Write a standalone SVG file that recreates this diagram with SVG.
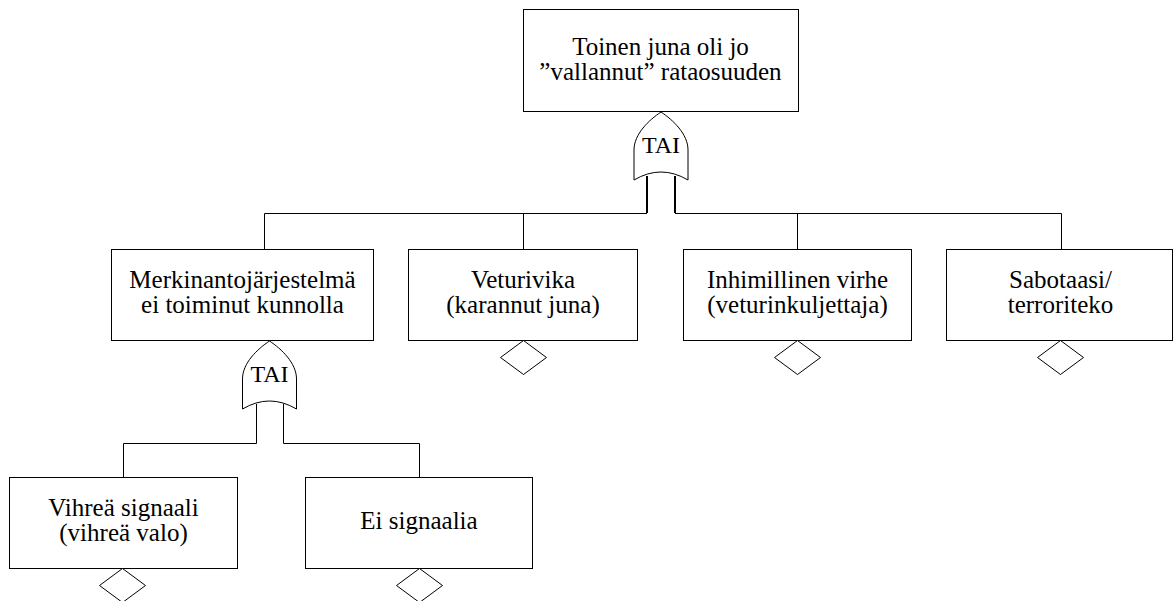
<svg xmlns="http://www.w3.org/2000/svg" width="1173" height="601" viewBox="0 0 1173 601">
  <style>
    .box { fill: #fff; stroke: #000; stroke-width: 1; }
    .gate { fill: #fff; stroke: #000; stroke-width: 1; }
    .diamond { fill: #fff; stroke: #000; stroke-width: 1; }
    .label { font-family: "Liberation Serif", "DejaVu Serif", serif; font-size: 25px; fill: #000; text-anchor: middle; }
    .gate-label { font-family: "Liberation Serif", "DejaVu Serif", serif; font-size: 24px; fill: #000; text-anchor: middle; }
    .wire { fill: none; stroke: #000; stroke-width: 1; }
    .wire-bold { fill: none; stroke: #000; stroke-width: 2; }
  </style>
  <defs>
    <!-- OR gate outline, apex at origin -->
    <path id="or-gate" d="M0,0 C-12,8 -27,22 -27,38 L-27,68 Q0,52 27,68 L27,38 C27,22 12,8 0,0 Z"/>
    <!-- undeveloped-event diamond, top vertex at origin -->
    <path id="undeveloped" d="M0,0 L23,17 L0,34 L-23,17 Z"/>
  </defs>

  <rect width="1173" height="601" fill="#fff"/>

  <!-- connectors -->
  <g id="connectors">
    <!-- top gate to level 1 -->
    <path class="wire-bold" d="M647,176 V213"/>
    <path class="wire-bold" d="M675,176 V213"/>
    <path class="wire" d="M647,213.5 H264.5 V249"/>
    <path class="wire" d="M675,213.5 H1061.5 V249"/>
    <path class="wire" d="M523.5,213.5 V249"/>
    <path class="wire" d="M797.5,213.5 V249"/>
    <!-- second gate to level 2 -->
    <path class="wire" d="M256.5,404 V443.5 H123.5 V477"/>
    <path class="wire" d="M283.5,404 V443.5 H419.5 V477"/>
  </g>

  <!-- top event -->
  <g id="top-event">
    <rect class="box" x="523.5" y="9.5" width="275" height="102"/>
    <text class="label" x="660.5" y="55" font-family="Liberation Serif, serif">Toinen juna oli jo</text>
    <text class="label" x="660.5" y="80" font-family="Liberation Serif, serif">”vallannut” rataosuuden</text>
  </g>

  <g id="gate-top">
    <use href="#or-gate" class="gate" x="661" y="112"/>
    <text class="gate-label" x="661" y="153">TAI</text>
  </g>

  <g id="merkinanto">
    <rect class="box" x="111.5" y="249.5" width="262" height="91"/>
    <text class="label" x="242.5" y="288">Merkinantojärjestelmä</text>
    <text class="label" x="242.5" y="313">ei toiminut kunnolla</text>
  </g>

  <g id="gate-merkinanto">
    <use href="#or-gate" class="gate" x="269.5" y="341"/>
    <text class="gate-label" x="269.5" y="382">TAI</text>
  </g>

  <g id="veturivika">
    <rect class="box" x="408.5" y="249.5" width="229" height="91"/>
    <text class="label" x="523" y="288">Veturivika</text>
    <text class="label" x="523" y="313">(karannut juna)</text>
    <use href="#undeveloped" class="diamond" x="523.5" y="340.5"/>
  </g>

  <g id="inhimillinen">
    <rect class="box" x="683.5" y="249.5" width="228" height="91"/>
    <text class="label" x="797.5" y="288">Inhimillinen virhe</text>
    <text class="label" x="797.5" y="313">(veturinkuljettaja)</text>
    <use href="#undeveloped" class="diamond" x="797.5" y="340.5"/>
  </g>

  <g id="sabotaasi">
    <rect class="box" x="946.5" y="249.5" width="226" height="91"/>
    <text class="label" x="1060.5" y="288">Sabotaasi/</text>
    <text class="label" x="1060.5" y="313">terroriteko</text>
    <use href="#undeveloped" class="diamond" x="1060.5" y="340.5"/>
  </g>

  <g id="vihrea-signaali">
    <rect class="box" x="9.5" y="477.5" width="228" height="91"/>
    <text class="label" x="123.5" y="516">Vihreä signaali</text>
    <text class="label" x="123.5" y="541">(vihreä valo)</text>
    <use href="#undeveloped" class="diamond" x="122.5" y="568.5"/>
  </g>

  <g id="ei-signaalia">
    <rect class="box" x="305.5" y="477.5" width="227" height="91"/>
    <text class="label" x="419" y="529">Ei signaalia</text>
    <use href="#undeveloped" class="diamond" x="419.5" y="568.5"/>
  </g>
</svg>
